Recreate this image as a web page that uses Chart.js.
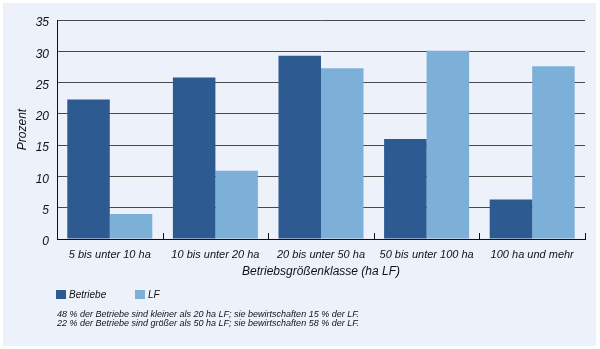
<!DOCTYPE html>
<html lang="de">
<head>
<meta charset="utf-8">
<title>Betriebe und LF nach Betriebsgrößenklasse</title>
<script src="https://cdn.jsdelivr.net/npm/chart.js@4.4.1/dist/chart.umd.min.js"></script>
<style>
    body { margin: 0; background: #ffffff; }
    #chart-wrap { width: 600px; height: 349px; }
</style>
</head>
<body>
<div id="chart-wrap">
    <canvas id="size-chart" width="600" height="349"></canvas>
</div>
<script>
const categories = ['5 bis unter 10 ha', '10 bis unter 20 ha', '20 bis unter 50 ha', '50 bis unter 100 ha', '100 ha und mehr'];
const betriebe = [22.3, 25.8, 29.3, 16.0, 6.3];
const flaeche = [4.0, 10.9, 27.3, 30.1, 27.6];
const yTicks = [0, 5, 10, 15, 20, 25, 30, 35];
const notes = [
    '48 % der Betriebe sind kleiner als 20 ha LF; sie bewirtschaften 15 % der LF.',
    '22 % der Betriebe sind größer als 50 ha LF; sie bewirtschaften 58 % der LF.'
];

const darkBlue = '#2c5a91';
const lightBlue = '#7db0d9';
const panelColor = '#edf1fa';
const textColor = '#111111';
const narrow = "'Liberation Sans Narrow', 'Liberation Sans', sans-serif";

// light panel behind everything
const panelPlugin = {
    id: 'panel',
    beforeDraw(chart) {
        const ctx = chart.ctx;
        ctx.save();
        ctx.fillStyle = panelColor;
        ctx.fillRect(3, 3, 593, 343);
        ctx.restore();
    }
};

// small upward ticks between the groups, legend and the two notes
const extrasPlugin = {
    id: 'extras',
    afterDraw(chart) {
        const ctx = chart.ctx;
        const x = chart.scales.x;
        const bottom = chart.chartArea.bottom;
        ctx.save();
        ctx.strokeStyle = '#111';
        ctx.lineWidth = 1;
        for (let i = 0; i < categories.length; i++) {
            const px = Math.round(x.getPixelForValue(i + 0.5)) + 0.5;
            ctx.beginPath();
            ctx.moveTo(px, bottom);
            ctx.lineTo(px, bottom - 6);
            ctx.stroke();
        }

        // legend
        ctx.textBaseline = 'middle';
        ctx.font = 'italic 10px ' + narrow;
        const legendX = [56, 135];
        chart.data.datasets.forEach((ds, i) => {
            ctx.fillStyle = ds.backgroundColor;
            ctx.fillRect(legendX[i], 290, 10, 9);
            ctx.fillStyle = textColor;
            ctx.fillText(ds.label, legendX[i] + 13, 295);
        });

        // notes
        ctx.font = 'italic 9px ' + narrow;
        notes.forEach((line, i) => {
            ctx.fillText(line, 57, 314 + i * 9.5);
        });
        ctx.restore();
    }
};

const ctx = document.getElementById('size-chart');

new Chart(ctx, {
    type: 'bar',
    data: {
        labels: categories,
        datasets: [
            {
                label: 'Betriebe',
                data: betriebe,
                backgroundColor: darkBlue,
                borderWidth: 0
            },
            {
                label: 'LF',
                data: flaeche,
                backgroundColor: lightBlue,
                borderWidth: 0
            }
        ]
    },
    options: {
        responsive: false,
        animation: false,
        devicePixelRatio: 1,
        layout: {
            padding: { left: 0, right: 15, top: 20, bottom: 68 }
        },
        datasets: {
            bar: { categoryPercentage: 0.805, barPercentage: 1.0 }
        },
        plugins: {
            legend: { display: false },
            tooltip: { enabled: false }
        },
        scales: {
            x: {
                offset: true,
                grid: { display: false, drawTicks: false },
                border: { display: true, color: '#111', width: 1 },
                ticks: {
                    padding: 9,
                    color: textColor,
                    font: { family: narrow, style: 'italic', size: 11 },
                    maxRotation: 0
                },
                title: {
                    display: true,
                    text: 'Betriebsgrößenklasse (ha LF)',
                    color: textColor,
                    font: { family: narrow, style: 'italic', size: 12 },
                    padding: { top: 0, bottom: 2 }
                },
                afterFit(scale) {
                    scale.height = 42;
                }
            },
            y: {
                min: 0,
                max: 35,
                afterBuildTicks(scale) {
                    scale.ticks = yTicks.map(v => ({ value: v }));
                },
                grid: {
                    color: '#4a4a4a',
                    lineWidth: 1,
                    drawTicks: false
                },
                border: { display: true, color: '#111', width: 1 },
                ticks: {
                    padding: 8,
                    labelOffset: 3,
                    color: textColor,
                    font: { family: "'Liberation Sans', sans-serif", style: 'italic', size: 12 }
                },
                title: {
                    display: true,
                    text: 'Prozent',
                    color: textColor,
                    font: { family: narrow, style: 'italic', size: 12 },
                    padding: { top: 15, bottom: 0 }
                },
                afterFit(scale) {
                    scale.width = 57;
                }
            }
        }
    },
    plugins: [panelPlugin, extrasPlugin]
});
</script>
</body>
</html>
